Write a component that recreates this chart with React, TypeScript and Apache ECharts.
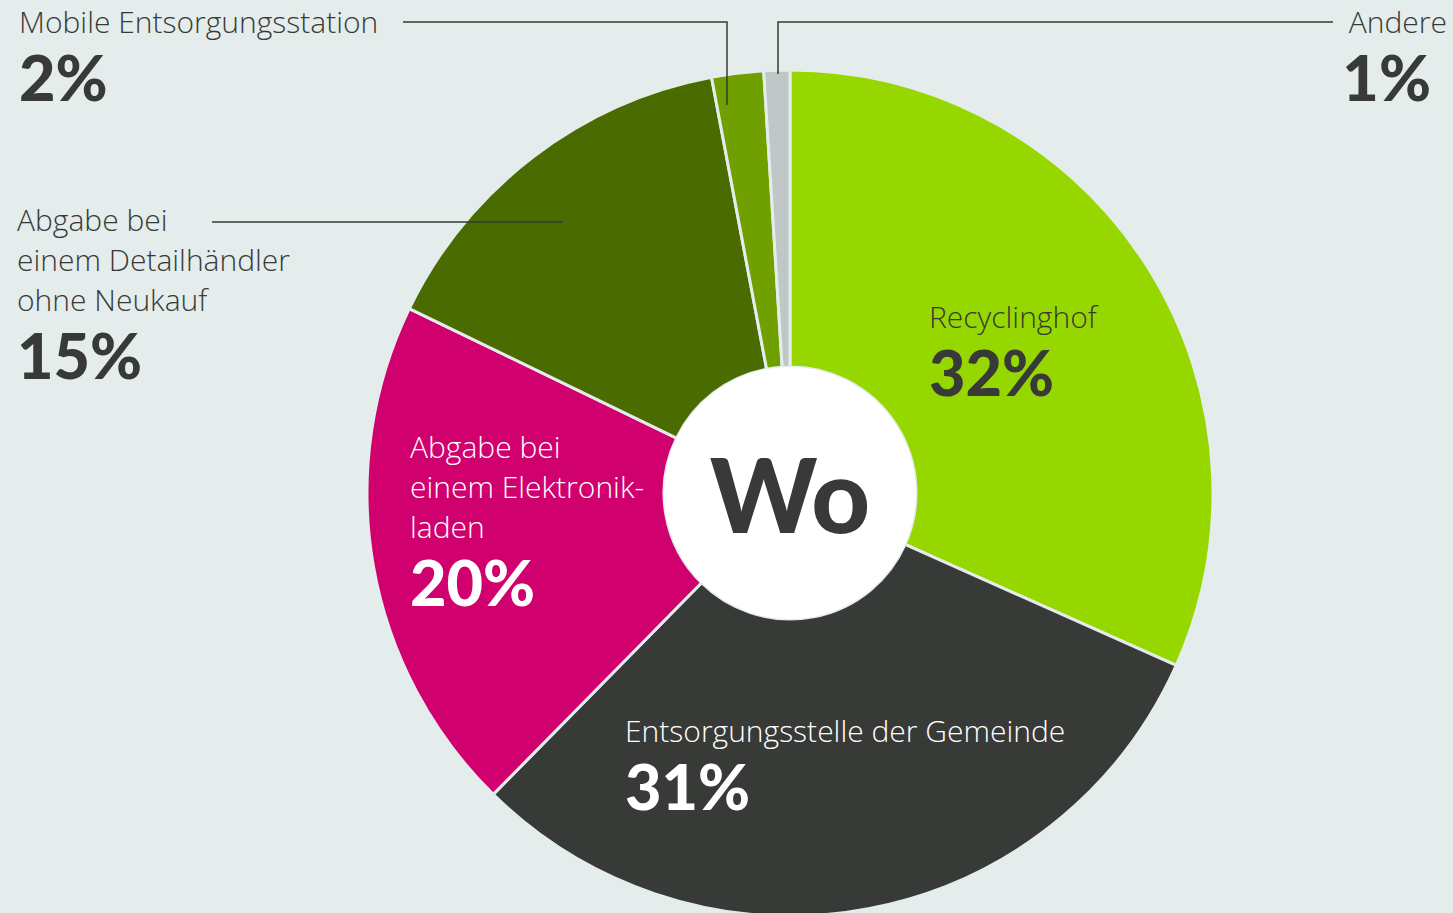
import React, { useEffect, useRef } from "react";
import * as echarts from "echarts";

const categories = [
  "Recyclinghof",
  "Entsorgungsstelle der Gemeinde",
  "Abgabe bei\neinem Elektronik-\nladen",
  "Abgabe bei\neinem Detailhändler\nohne Neukauf",
  "Mobile Entsorgungsstation",
  "Andere",
];
const values = [32, 31, 20, 15, 2, 1];
const colors = ["#97d700", "#383a37", "#d0006f", "#4a6b00", "#70a000", "#bfc8c6"];
const textColors = ["#383a37", "#ffffff", "#ffffff", "#383a37", "#383a37", "#383a37"];
const centerLabel = "Wo";

// label layout (top-left of label block, alignment, leader line)
const labelPos: { x: number; y: number; align: string; pad: number; line?: number[][] }[] = [
  { x: 929, y: 296, align: "left", pad: 0 },
  { x: 625, y: 710, align: "left", pad: 0 },
  { x: 410, y: 426, align: "left", pad: 0 },
  { x: 17, y: 199, align: "left", pad: 0, line: [[212, 222], [400, 222], [563, 222]] },
  { x: 19, y: 1, align: "left", pad: 0, line: [[403, 22], [727, 22], [727, 105]] },
  { x: 1447, y: 1, align: "right", pad: 16, line: [[1333, 22], [778, 22], [778, 74]] },
];

const CENTER = [790, 493];

export default function App() {
  const ref = useRef<HTMLDivElement>(null);
  useEffect(() => {
    if (!ref.current) return;
    const chart = echarts.init(ref.current, undefined, { renderer: "svg" });
    const sectorData = categories.map((name, i) => ({
      name,
      value: values[i],
      itemStyle: { color: colors[i] },
    }));
    const labelData = categories.map((name, i) => ({
      name,
      value: values[i],
      label: {
        rich: {
          n: {
            fontFamily: "Open Sans",
            fontWeight: 300,
            fontSize: 30,
            lineHeight: 40,
            color: textColors[i],
            align: labelPos[i].align,
          },
          v: {
            fontFamily: "Lato",
            fontWeight: 900,
            fontSize: 63,
            lineHeight: 70,
            color: textColors[i],
            align: labelPos[i].align,
            padding: [0, labelPos[i].pad, 0, 0],
          },
        },
      },
      labelLine: { show: !!labelPos[i].line },
    }));
    chart.setOption({
      animation: false,
      backgroundColor: "#e4ecec",
      series: [
        {
          type: "pie",
          center: CENTER,
          radius: [126, 423],
          startAngle: 90,
          clockwise: true,
          silent: true,
          itemStyle: { borderColor: "#e4ecec", borderWidth: 3 },
          label: { show: false },
          labelLine: { show: false },
          data: sectorData,
        },
        {
          type: "pie",
          center: CENTER,
          radius: [0, 126],
          silent: true,
          itemStyle: { color: "#ffffff" },
          label: {
            show: true,
            position: "center",
            formatter: centerLabel,
            fontFamily: "Lato",
            fontWeight: 900,
            fontSize: 102,
            color: "#383a37",
          },
          labelLine: { show: false },
          data: [{ name: centerLabel, value: 1 }],
        },
        {
          type: "pie",
          center: CENTER,
          radius: [126, 423],
          startAngle: 90,
          clockwise: true,
          silent: true,
          z: 5,
          itemStyle: { color: "rgba(0,0,0,0)", borderWidth: 0 },
          label: {
            show: true,
            position: "outside",
            formatter: (p: any) => `{n|${p.name}}\n{v|${p.value}%}`,
          },
          labelLine: {
            show: false,
            showAbove: true,
            lineStyle: { color: "#383a37", width: 1.5 },
          },
          labelLayout: (p: any) => {
            const lp = labelPos[p.dataIndex];
            return {
              x: lp.x,
              y: lp.y,
              align: lp.align,
              verticalAlign: "top",
              labelLinePoints: lp.line,
            };
          },
          data: labelData,
        },
      ],
    });
    return () => chart.dispose();
  }, []);
  return (
    <div
      ref={ref}
      style={{ position: "fixed", left: 0, top: 0, width: 1453, height: 913 }}
    />
  );
}
